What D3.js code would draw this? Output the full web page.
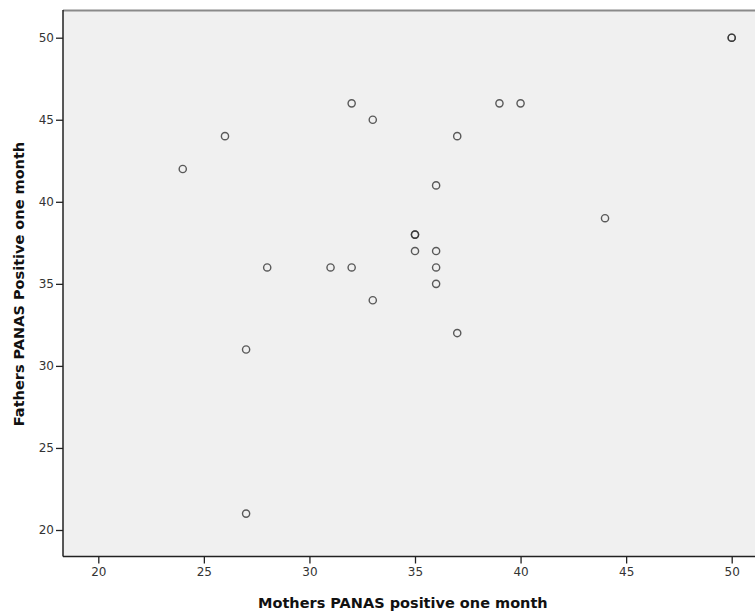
<!DOCTYPE html>
<html><head><meta charset="utf-8">
<script src="https://cdn.jsdelivr.net/npm/d3@7"></script>
<style>body{margin:0;background:#fff;}svg{display:block;}</style>
</head><body>
<svg id="c" width="755" height="613"></svg>
<script>
const mothers = [24,26,27,27,28,31,32,32,33,33,35,35,35,36,36,36,36,37,37,39,40,44,50,50];
const fathers = [42,44,31,21,36,36,36,46,45,34,38,38,37,41,37,36,35,44,32,46,46,39,50,50];
const xTicks = [20,25,30,35,40,45,50];
const yTicks = [20,25,30,35,40,45,50];
const xTitle = "Mothers PANAS positive one month";
const yTitle = "Fathers PANAS Positive one month";

const svg = d3.select("#c");
const L = 63, R = 760, T = 10, B = 556.5;
const x = d3.scaleLinear().domain([20,50]).range([98.3,731.7]);
const y = d3.scaleLinear().domain([20,50]).range([530,37.7]);

svg.append("rect").attr("x",L).attr("y",T).attr("width",R-L).attr("height",B-T).attr("fill","#f0f0f0");
svg.append("line").attr("x1",L).attr("x2",R).attr("y1",T+0.5).attr("y2",T+0.5).attr("stroke","#8a8a8a").attr("stroke-width",2);

const fontF = "'DejaVu Sans', Verdana, sans-serif";
const gx = svg.append("g").attr("transform",`translate(0,${B})`)
  .call(d3.axisBottom(x).tickValues(xTicks).tickSize(7).tickPadding(4).tickFormat(d3.format("d")));
const gy = svg.append("g").attr("transform",`translate(${L},0)`)
  .call(d3.axisLeft(y).tickValues(yTicks).tickSize(7).tickPadding(2).tickFormat(d3.format("d")));
[gx,gy].forEach(g=>{
  g.select(".domain").remove();
  g.selectAll(".tick line").attr("stroke","#222").attr("stroke-width",1.3);
  g.selectAll(".tick text").attr("fill","#333").style("font-family",fontF).style("font-size","12px");
});
svg.append("line").attr("x1",L).attr("x2",R).attr("y1",B).attr("y2",B).attr("stroke","#222").attr("stroke-width",1.5);
svg.append("line").attr("x1",L).attr("x2",L).attr("y1",T).attr("y2",B).attr("stroke","#222").attr("stroke-width",1.5);

svg.append("g").selectAll("circle").data(mothers.map((m,i)=>[m,fathers[i]])).join("circle")
  .attr("cx",d=>x(d[0])).attr("cy",d=>y(d[1])).attr("r",3.6)
  .attr("fill","none").attr("stroke","#333").attr("stroke-width",1.4).attr("stroke-opacity",0.8);

svg.append("text").attr("x",258).attr("y",608).attr("text-anchor","start")
  .style("font-family",fontF).style("font-weight","bold").style("font-size","14.5px").attr("fill","#111").text(xTitle);
svg.append("text").attr("transform","translate(24,284) rotate(-90)").attr("text-anchor","middle")
  .style("font-family",fontF).style("font-weight","bold").style("font-size","14.5px").attr("fill","#111").text(yTitle);
</script>
</body></html>
